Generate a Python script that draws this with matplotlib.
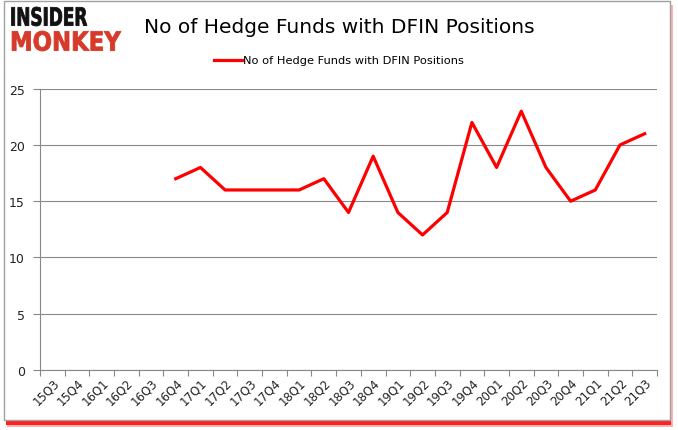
import matplotlib
matplotlib.use("Agg")
import matplotlib.pyplot as plt
from matplotlib.patches import Rectangle, PathPatch
from matplotlib.textpath import TextPath
from matplotlib.font_manager import FontProperties
from matplotlib.path import Path
import numpy as np

# quarters shown on the x axis
quarters = ["15Q3", "15Q4", "16Q1", "16Q2", "16Q3", "16Q4", "17Q1", "17Q2", "17Q3",
            "17Q4", "18Q1", "18Q2", "18Q3", "18Q4", "19Q1", "19Q2", "19Q3", "19Q4",
            "20Q1", "20Q2", "20Q3", "20Q4", "21Q1", "21Q2", "21Q3"]

# hedge fund counts, first available quarter is 16Q4
first_quarter = "16Q4"
hedge_funds = [17, 18, 16, 16, 16, 16, 17, 14, 19, 14, 12, 14, 22, 18, 23, 18, 15, 16, 20, 21]

y_ticks = [0, 5, 10, 15, 20, 25]
series_name = "No of Hedge Funds with DFIN Positions"
title = "No of Hedge Funds with DFIN Positions"

W, H = 678, 431
fig = plt.figure(figsize=(W / 100, H / 100), dpi=100)


def px_rect(x0, y0, x1, y1, **kw):
    # rectangle given in pixel coords (top-left origin)
    return Rectangle((x0 / W, 1 - y1 / H), (x1 - x0) / W, (y1 - y0) / H,
                     transform=fig.transFigure, **kw)


# red shadow under the frame, then the white frame itself
fig.patches.append(px_rect(7, 6, 673, 428, facecolor="#ffb0b0", edgecolor="none", zorder=0))
fig.patches.append(px_rect(6, 5, 671, 426, facecolor="#ff2020", edgecolor="none", zorder=0))
fig.patches.append(px_rect(4, 2, 670, 421, facecolor="white", edgecolor="#a0a0a0",
                           lw=1.0, zorder=1))

ax = fig.add_axes([40 / W, 1 - 371 / H, 617 / W, (371 - 89.7) / H])
ax.set_zorder(2)
ax.patch.set_alpha(0)

start = quarters.index(first_quarter)
x = np.arange(start, start + len(hedge_funds)) + 0.5
ax.plot(x, hedge_funds, color="#ff0000", lw=2.3, label=series_name)

ax.set_xlim(0, len(quarters))
ax.set_ylim(0, 25)
ax.set_yticks(y_ticks)
ax.set_yticklabels([str(v) for v in y_ticks], fontsize=9, color="#222222")
ax.grid(axis="y", color="#888888", lw=0.8)
ax.set_axisbelow(True)

# ticks between categories, labels in the middle
ax.set_xticks(np.arange(0, len(quarters) + 1))
ax.set_xticklabels([])
ax.set_xticks(np.arange(len(quarters)) + 0.5, minor=True)
ax.set_xticklabels(quarters, minor=True, rotation=45, ha="right", va="top",
                   rotation_mode="anchor", fontsize=8.5, color="#222222")
ax.tick_params(axis="x", which="major", length=4, color="#888888")
ax.tick_params(axis="x", which="minor", length=0, pad=4)
ax.tick_params(axis="y", length=5, color="#888888", pad=6)

for side in ["top", "right"]:
    ax.spines[side].set_visible(False)
ax.spines["bottom"].set_color("#888888")
ax.spines["left"].set_color("#888888")

fig.text(0.5, 1 - 28 / H, title, ha="center", va="center", fontsize=14.5, color="black")
fig.legend(loc="center", bbox_to_anchor=(0.5, 1 - 61.5 / H), frameon=False, fontsize=8.2,
           handlelength=2.45, handletextpad=0.1)

# logo, squeezed into its box in pixel coords
logo_ax = fig.add_axes([0, 0, 1, 1])
logo_ax.set_xlim(0, W)
logo_ax.set_ylim(H, 0)
logo_ax.axis("off")
logo_ax.set_zorder(3)
logo_font = FontProperties(family="DejaVu Sans", weight="bold")


def logo_word(word, x0, x1, y0, y1, color):
    tp = TextPath((0, 0), word, size=1, prop=logo_font)
    v = tp.vertices.copy()
    xmin, ymin = v.min(axis=0)
    xmax, ymax = v.max(axis=0)
    v[:, 0] = x0 + (v[:, 0] - xmin) / (xmax - xmin) * (x1 - x0)
    v[:, 1] = y1 - (v[:, 1] - ymin) / (ymax - ymin) * (y1 - y0)
    logo_ax.add_patch(PathPatch(Path(v, tp.codes), facecolor=color, edgecolor=color, lw=0.6))


logo_word("INSIDER", 10, 87, 8, 27, "#111111")
logo_word("MONKEY", 10, 121, 32, 52, "#d63a2a")

fig.savefig("out.png", dpi=100)
